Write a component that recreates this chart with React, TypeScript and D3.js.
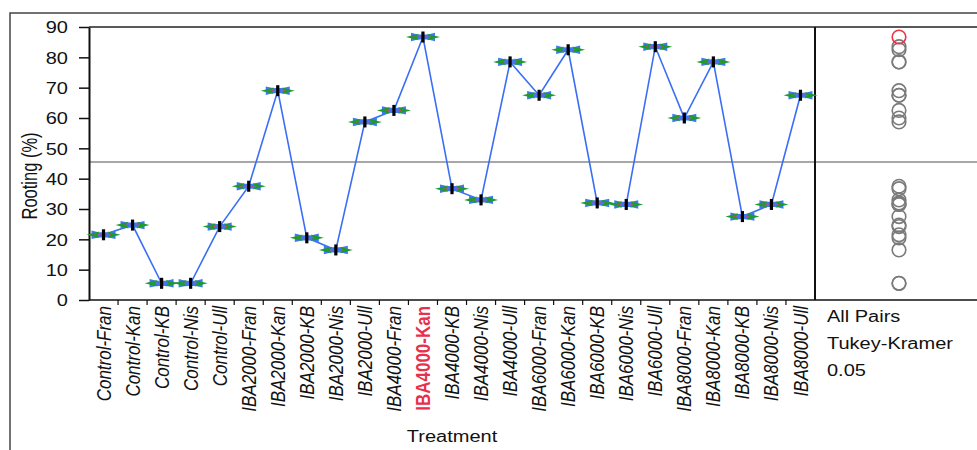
import React, { useRef, useEffect } from 'react';
import * as d3 from 'd3';

const treatments = [
  'Control-Fran', 'Control-Kan', 'Control-KB', 'Control-Nis', 'Control-Ull',
  'IBA2000-Fran', 'IBA2000-Kan', 'IBA2000-KB', 'IBA2000-Nis', 'IBA2000-Ull',
  'IBA4000-Fran', 'IBA4000-Kan', 'IBA4000-KB', 'IBA4000-Nis', 'IBA4000-Ull',
  'IBA6000-Fran', 'IBA6000-Kan', 'IBA6000-KB', 'IBA6000-Nis', 'IBA6000-Ull',
  'IBA8000-Fran', 'IBA8000-Kan', 'IBA8000-KB', 'IBA8000-Nis', 'IBA8000-Ull',
];

// mean rooting (%) per treatment
const rooting = [
  21.5, 24.7, 5.5, 5.5, 24.2,
  37.5, 69.0, 20.5, 16.5, 58.7,
  62.5, 86.7, 36.7, 33.0, 78.5,
  67.5, 82.5, 32.0, 31.5, 83.5,
  60.0, 78.5, 27.5, 31.5, 67.5,
];

const yTicks = [0, 10, 20, 30, 40, 50, 60, 70, 80, 90];
const grandMean = 45.5;
const selected = 'IBA4000-Kan';
const testLabels = ['All Pairs', 'Tukey-Kramer', '0.05'];

const W = 977;
const H = 450;
const font = '"Liberation Sans", Arial, sans-serif';
const stretch = 1.25; // the original is a bit wide

const App = () => {
  const ref = useRef<SVGSVGElement>(null);

  useEffect(() => {
    const svg = d3.select(ref.current);
    svg.selectAll('*').remove();

    const left = 89, top = 27, bottom = 300, divider = 815;
    const data = treatments.map((t, i) => ({ t, v: rooting[i] }));

    const x = d3.scaleBand().domain(treatments).range([left, divider]);
    const y = d3.scaleLinear().domain([0, 90]).range([bottom, top]);
    const cx = (t: string) => (x(t) as number) + x.bandwidth() / 2;

    // outer frame (left + top)
    svg.append('path')
      .attr('d', `M10,${H} V13 H${W}`)
      .attr('fill', 'none').attr('stroke', '#444').attr('stroke-width', 1.5);

    // grand mean
    svg.append('line')
      .attr('x1', left).attr('x2', W)
      .attr('y1', y(grandMean)).attr('y2', y(grandMean))
      .attr('stroke', '#8a8a8a').attr('stroke-width', 1.3);

    // plot frame
    svg.append('line').attr('x1', left).attr('x2', W).attr('y1', top).attr('y2', top)
      .attr('stroke', '#222').attr('stroke-width', 1.6);
    svg.append('line').attr('x1', left).attr('x2', W).attr('y1', bottom).attr('y2', bottom)
      .attr('stroke', '#111').attr('stroke-width', 1.6);
    svg.append('line').attr('x1', divider).attr('x2', divider).attr('y1', top).attr('y2', bottom)
      .attr('stroke', '#111').attr('stroke-width', 2);

    // y axis
    const yAxis = svg.append('g')
      .attr('transform', `translate(${left},0)`)
      .call(d3.axisLeft(y).tickValues(yTicks).tickSize(10).tickSizeOuter(0));
    yAxis.select('.domain').attr('stroke', '#111').attr('stroke-width', 2);
    yAxis.selectAll('.tick line').attr('stroke', '#111').attr('stroke-width', 1.5);
    yAxis.selectAll('.tick text')
      .attr('x', 0).attr('dy', '0.36em')
      .attr('transform', `translate(-21,0) scale(${stretch},1)`)
      .attr('font-family', font).attr('font-size', 16).attr('fill', '#111');

    svg.append('text')
      .attr('transform', `translate(37,176) scale(1.3,1) rotate(-90)`)
      .attr('text-anchor', 'middle')
      .attr('font-family', font).attr('font-size', 16.5).attr('fill', '#111')
      .text('Rooting (%)');

    // x ticks at band boundaries
    svg.append('g').selectAll('line')
      .data(treatments.slice(1))
      .join('line')
      .attr('x1', d => x(d) as number).attr('x2', d => x(d) as number)
      .attr('y1', bottom).attr('y2', bottom + 5)
      .attr('stroke', '#111').attr('stroke-width', 1.2);

    svg.append('g').selectAll('text')
      .data(treatments)
      .join('text')
      .attr('transform', d => `translate(${cx(d)},${bottom + 6}) scale(1.15,1) rotate(-90)`)
      .attr('text-anchor', 'end')
      .attr('dy', '0.36em')
      .attr('font-family', font)
      .attr('font-size', 17)
      .attr('font-style', d => (d === selected ? 'normal' : 'italic'))
      .attr('font-weight', d => (d === selected ? 'bold' : 'normal'))
      .attr('fill', d => (d === selected ? '#e8304a' : '#111'))
      .text(d => d);

    svg.append('text')
      .attr('transform', `translate(452,442) scale(${stretch},1)`)
      .attr('text-anchor', 'middle')
      .attr('font-family', font).attr('font-size', 16).attr('fill', '#111')
      .text('Treatment');

    // line through means
    svg.append('path')
      .datum(data)
      .attr('fill', 'none')
      .attr('stroke', '#3a6ef5')
      .attr('stroke-width', 1.6)
      .attr('d', d3.line<{ t: string; v: number }>()
        .x(d => cx(d.t))
        .y(d => y(d.v)));

    // mean diamonds
    const mk = svg.append('g').selectAll('g')
      .data(data)
      .join('g')
      .attr('transform', d => `translate(${cx(d.t)},${y(d.v)})`);
    mk.append('path')
      .attr('d', 'M-12,-4.2 L-5,-2.6 L5,-2.6 L12,-4.2 L12,4.2 L5,2.6 L-5,2.6 L-12,4.2 Z')
      .attr('fill', '#3d78f5');
    mk.append('path')
      .attr('d', 'M-17,0 L-4,-3.3 L-6.5,0 L-4,3.3 Z M17,0 L4,-3.3 L6.5,0 L4,3.3 Z')
      .attr('fill', '#1e9c28');
    mk.append('line')
      .attr('x1', -9).attr('x2', 9).attr('y1', 0).attr('y2', 0)
      .attr('stroke', '#f04050').attr('stroke-width', 0.8).attr('stroke-dasharray', '1.5,1.5');
    mk.append('rect')
      .attr('x', -1.6).attr('y', -5.5).attr('width', 3.2).attr('height', 11)
      .attr('fill', '#000');

    // comparison circles
    const circX = 899;
    svg.append('g').selectAll('circle')
      .data(data.slice().sort((a, b) => (a.t === selected ? 1 : 0) - (b.t === selected ? 1 : 0)))
      .join('circle')
      .attr('cx', circX)
      .attr('cy', d => y(d.v))
      .attr('r', 6.8)
      .attr('fill', 'none')
      .attr('stroke', d => (d.t === selected ? '#ee3344' : '#7a7a7a'))
      .attr('stroke-width', 1.6);

    svg.append('g').selectAll('text')
      .data(testLabels)
      .join('text')
      .attr('transform', (d, i) => `translate(827,${322 + i * 27}) scale(${stretch},1)`)
      .attr('font-family', font).attr('font-size', 16).attr('fill', '#111')
      .text(d => d);
  }, []);

  return (
    <svg
      ref={ref}
      width={W}
      height={H}
      style={{ position: 'absolute', left: 0, top: 0, background: '#fff' }}
    />
  );
};

export default App;
